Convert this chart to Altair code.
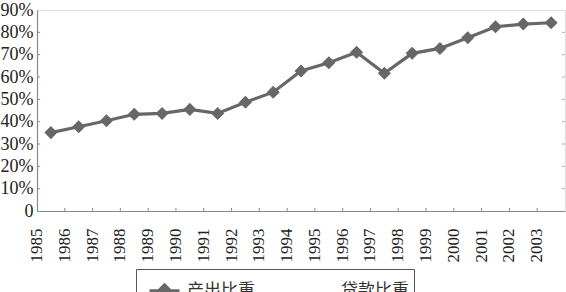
import altair as alt
import pandas as pd

years = [str(y) for y in range(1985, 2004)]
output_share = [35.1, 37.7, 40.4, 43.3, 43.7, 45.5, 43.7, 48.7, 53.2, 62.7,
                66.4, 71.1, 61.7, 70.6, 72.8, 77.6, 82.5, 83.7, 84.3]
series_names = ["产出比重", "贷款比重"]
series_colors = ["#676767", "#ffffff"]
y_ticks = [0, 10, 20, 30, 40, 50, 60, 70, 80, 90]

W, H = 528, 201
BAND = W / len(years)

df = pd.DataFrame({"year": years, "value": output_share, "series": series_names[0]})
tick_df = pd.DataFrame({"value": y_ticks[1:-1]})
xtick_df = pd.DataFrame({"year": years[1:]})

SERIF = "Liberation Serif"

xscale = alt.Scale(domain=years, paddingInner=0, paddingOuter=0)
yscale = alt.Scale(domain=[0, 90], nice=False)

xaxis = alt.Axis(title=None, labelOffset=-BAND / 2, labelAngle=270, ticks=False,
                 labelPadding=17, labelFont=SERIF, labelOverlap=False,
                 labelFontSize=17, labelColor="#222222",
                 domainColor="#8a8a8a", domainWidth=1.2)
yaxis = alt.Axis(title=None, values=y_ticks, ticks=False, grid=False,
                 labelPadding=4, labelFont=SERIF, labelOverlap=False,
                 labelFontSize=18, labelColor="#222222",
                 domainColor="#8a8a8a", domainWidth=1.2,
                 labelExpr="datum.value == 0 ? '0' : datum.value + '%'")

xenc = alt.X("year:N", scale=xscale, axis=xaxis)
yenc = alt.Y("value:Q", scale=yscale, axis=yaxis)

color = alt.Color("series:N",
                  scale=alt.Scale(domain=series_names, range=series_colors),
                  legend=alt.Legend(
                      title=None, orient="none", legendX=99, legendY=259,
                      direction="horizontal", strokeColor="#555555", padding=5,
                      columnPadding=40, symbolOffset=7,
                      symbolType="M-1,0L1,0M-0.4,0L0,-0.4L0.4,0L0,0.4Z",
                      symbolSize=900, symbolStrokeWidth=3,
                      symbolFillColor=alt.ExprRef(
                          "datum.value === '产出比重' ? '#676767' : 'transparent'"),
                      symbolStrokeColor=alt.ExprRef(
                          "datum.value === '产出比重' ? '#676767' : 'transparent'"),
                      labelExpr="datum.label == '贷款比重' ? datum.label + '\u00a0\u00a0\u00a0\u00a0\u00a0' : datum.label",
                      labelFont="Noto Sans CJK SC", labelFontSize=17,
                      labelColor="#333333", labelOffset=6))

line = alt.Chart(df).mark_line(strokeWidth=3.2).encode(x=xenc, y=yenc, color=color)
pts = alt.Chart(df).mark_point(shape="diamond", filled=True, size=170, opacity=1,
                                color="#676767").encode(x=xenc, y=yenc)

left_ticks = alt.Chart(tick_df).mark_rule(color="#8a8a8a", strokeWidth=1).encode(
    y=yenc, x=alt.value(0), x2=alt.value(3))
right_ticks = alt.Chart(tick_df).mark_rule(color="#b0b0b0", strokeWidth=1).encode(
    y=yenc, x=alt.value(W - 3), x2=alt.value(W))
bottom_ticks = alt.Chart(xtick_df).mark_rule(color="#8a8a8a", strokeWidth=1).encode(
    x=alt.X("year:N", scale=xscale, bandPosition=0, axis=xaxis),
    y=alt.value(H - 3), y2=alt.value(H))

chart = alt.layer(line, pts, left_ticks, right_ticks, bottom_ticks).properties(
    width=W, height=H,
    autosize=alt.AutoSizeParams(type="none"),
    padding={"left": 37, "top": 10, "right": 1, "bottom": 81},
).configure_view(stroke="#b4b4b4", strokeWidth=1.2).configure(background="white")

chart.save("out.html", embed_options={"renderer": "svg", "actions": False})
